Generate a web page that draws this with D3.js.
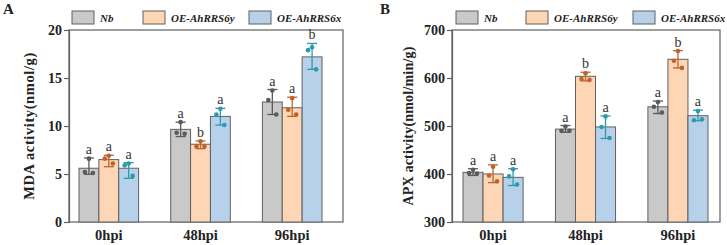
<!DOCTYPE html>
<html>
<head>
<meta charset="utf-8">
<script src="https://cdn.jsdelivr.net/npm/d3@7"></script>
<style>
  body { margin: 0; background: #fff; }
  svg text { font-family: "Liberation Serif", "Times New Roman", serif; }
</style>
</head>
<body>
<div class="canvas"></div>
<script>
const groups = ['0hpi', '48hpi', '96hpi'];
const lines = ['Nb', 'OE-AhRRS6y', 'OE-AhRRS6x'];

// panel A: MDA
const mdaMean = [[5.6, 6.5, 5.6], [9.65, 8.1, 11.0], [12.5, 11.9, 17.2]];
const mdaTop = [[6.67, 6.95, 6.18], [10.4, 8.44, 11.84], [13.8, 13.0, 18.6]];
const mdaLow = [[4.97, 5.76, 4.55], [8.9, 7.64, 10.1], [11.2, 11.0, 15.9]];
const mdaPts = [
  [[6.6, 5.2, 5.1], [6.9, 6.6, 6.1], [6.1, 5.9, 4.8]],
  [[10.4, 9.3, 9.2], [8.4, 7.9, 7.9], [11.8, 11.2, 10.1]],
  [[13.7, 12.7, 11.2], [12.9, 11.7, 11.2], [18.2, 17.9, 15.9]]
];
const mdaSig = [['a', 'a', 'a'], ['a', 'b', 'a'], ['a', 'a', 'b']];
const mdaTicks = [0, 5, 10, 15, 20];

// panel B: APX
const apxMean = [[403.5, 400, 393], [493.5, 603.5, 498], [540, 639, 521.5]];
const apxTop = [[411, 419, 411], [501, 612, 521], [552, 657, 533]];
const apxLow = [[397, 382, 376], [487, 594, 474], [526, 621, 511]];
const apxPts = [
  [[409, 402, 401], [415, 397, 385], [410, 395, 378]],
  [[499, 490, 490], [610, 598, 596], [520, 498, 475]],
  [[550, 540, 528], [656, 636, 621], [531, 512, 514]]
];
const apxSig = [['a', 'a', 'a'], ['a', 'b', 'a'], ['a', 'b', 'a']];
const apxTicks = [300, 400, 500, 600, 700];

const fills = ['#c9c9c9', '#fdd6b5', '#b8d1eb'];
const dark = ['#5a5a5a', '#c0632b', '#2b9aaa'];
const frame = '#606060';

const svg = d3.select('.canvas')
  .append('svg')
    .attr('width', 727)
    .attr('height', 245);

var drawPanel = (opt) => {
  const g = svg.append('g')
    .attr('transform', `translate(${opt.left}, ${opt.top})`);

  const y = d3.scaleLinear().domain(opt.domain).range([opt.h, 0]);
  const x0 = d3.scaleBand().domain(groups)
    .range([opt.inL, opt.w - opt.inR])
    .paddingInner(0.35).paddingOuter(0);
  const x1 = d3.scaleBand().domain(lines).range([0, x0.bandwidth()]);

  // frame
  g.append('rect')
    .attr('width', opt.w).attr('height', opt.h)
    .attr('fill', 'none').attr('stroke', frame).attr('stroke-width', 1.2);

  const yAxis = g.append('g')
    .call(d3.axisLeft(y).tickValues(opt.ticks).tickSize(5).tickPadding(2));
  yAxis.select('.domain').attr('stroke', frame).attr('stroke-width', 1.2);
  yAxis.selectAll('line').attr('stroke', frame).attr('stroke-width', 1.2);
  yAxis.selectAll('text')
    .attr('font-family', '"Liberation Serif", serif')
    .attr('font-weight', 'bold').attr('font-size', 14).attr('fill', '#222');

  const xAxis = g.append('g')
    .attr('transform', `translate(0, ${opt.h})`)
    .call(d3.axisBottom(x0).tickSize(0).tickPadding(8));
  xAxis.select('.domain').remove();
  xAxis.selectAll('text')
    .attr('font-family', '"Liberation Serif", serif')
    .attr('font-weight', 'bold').attr('font-size', 14.5).attr('fill', '#222');

  groups.forEach((gr, i) => {
    lines.forEach((ln, j) => {
      const bx = x0(gr) + x1(ln);
      const bw = x1.bandwidth();
      const cx = bx + bw / 2;
      g.append('rect')
        .attr('x', bx).attr('y', y(opt.mean[i][j]))
        .attr('width', bw).attr('height', opt.h - y(opt.mean[i][j]))
        .attr('fill', fills[j]).attr('stroke', frame).attr('stroke-width', 1);

      const top = y(opt.hi[i][j]), low = y(opt.lo[i][j]);
      g.append('line')
        .attr('x1', cx).attr('x2', cx).attr('y1', top).attr('y2', low)
        .attr('stroke', dark[j]).attr('stroke-width', 1.3);
      [top, low].forEach(v => {
        g.append('line')
          .attr('x1', cx - 5).attr('x2', cx + 5).attr('y1', v).attr('y2', v)
          .attr('stroke', dark[j]).attr('stroke-width', 1.3);
      });

      const offs = [0, -4, 4];
      opt.pts[i][j].forEach((p, k) => {
        g.append('circle')
          .attr('cx', cx + offs[k]).attr('cy', y(p))
          .attr('r', 2.3).attr('fill', dark[j]);
      });

      g.append('text')
        .attr('x', cx).attr('y', top - 4)
        .attr('text-anchor', 'middle')
        .attr('font-size', 14).attr('fill', '#333')
        .text(opt.sig[i][j]);
    });
  });

  // y title
  svg.append('text')
    .attr('transform', `translate(${opt.titleX}, ${opt.top + opt.h / 2}) rotate(-90)`)
    .attr('text-anchor', 'middle')
    .attr('font-weight', 'bold').attr('font-size', opt.titleSize)
    .attr('letter-spacing', opt.titleSpacing).attr('fill', '#222')
    .text(opt.title);

  // panel letter
  svg.append('text')
    .attr('x', opt.letterX).attr('y', 14)
    .attr('font-weight', 'bold').attr('font-size', 15).attr('fill', '#222')
    .text(opt.letter);

  // legend
  lines.forEach((ln, j) => {
    svg.append('rect')
      .attr('x', opt.legX[j]).attr('y', 11)
      .attr('width', 22).attr('height', 13)
      .attr('fill', fills[j]).attr('stroke', frame).attr('stroke-width', 1);
    svg.append('text')
      .attr('x', opt.legX[j] + 28).attr('y', 21.5)
      .attr('font-weight', 'bold').attr('font-style', 'italic')
      .attr('font-size', 11).attr('fill', '#222')
      .text(ln);
  });
}

drawPanel({
  left: 69, top: 30, w: 274, h: 192, inL: 10, inR: 21,
  domain: [0, 20], ticks: mdaTicks,
  mean: mdaMean, hi: mdaTop, lo: mdaLow, pts: mdaPts, sig: mdaSig,
  title: 'MDA activity(nmol/g)', titleX: 34, titleSize: 14.5, titleSpacing: 0.6,
  letter: 'A', letterX: 3,
  legX: [72, 143, 249]
});

drawPanel({
  left: 452, top: 30, w: 268, h: 192, inL: 11, inR: 12,
  domain: [300, 700], ticks: apxTicks,
  mean: apxMean, hi: apxTop, lo: apxLow, pts: apxPts, sig: apxSig,
  title: 'APX activity(nmol/min/g)', titleX: 413, titleSize: 14, titleSpacing: 0.2,
  letter: 'B', letterX: 380,
  legX: [456, 526, 633]
});
</script>
</body>
</html>
